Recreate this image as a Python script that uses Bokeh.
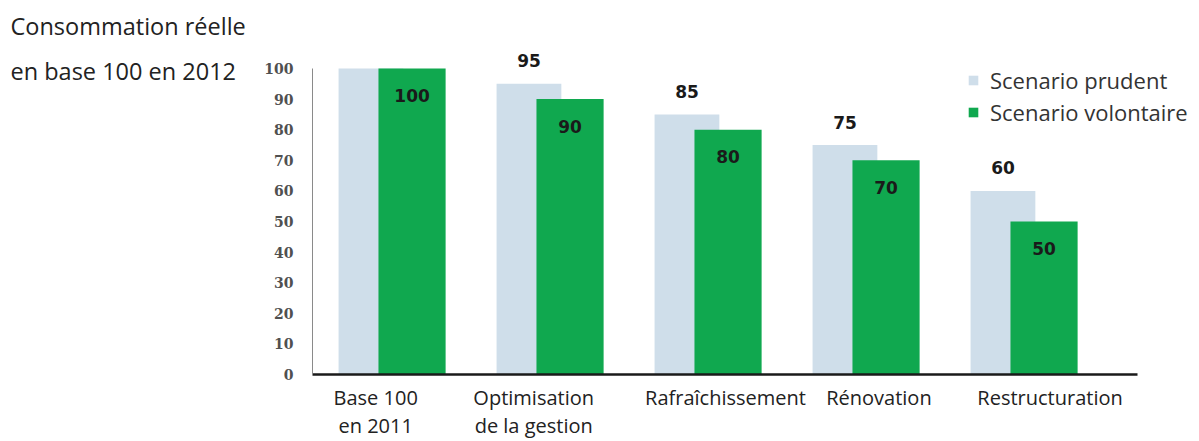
from bokeh.plotting import figure
from bokeh.layouts import row
from bokeh.models import ColumnDataSource, Range1d, FixedTicker, Legend, LegendItem, CDSView, IndexFilter
from bokeh.core.properties import value
from bokeh.embed import file_html
from bokeh.resources import INLINE

# ---- data ----
categories = ["Base 100\nen 2011", "Optimisation\nde la gestion", "Rafraîchissement", "Rénovation", "Restructuration"]
prudent = [100, 95, 85, 75, 60]
volontaire = [100, 90, 80, 70, 50]
series_names = ["Scenario prudent", "Scenario volontaire"]
y_ticks = [0, 10, 20, 30, 40, 50, 60, 70, 80, 90, 100]
title_lines = ["Consommation réelle", "en base 100 en 2012"]

# ---- layout / style ----
PRUDENT_COLOR = "#cfdeea"
GREEN_COLOR = "#10a84f"
DODGE = 0.13
W_PRUDENT = 0.41
W_GREEN = 0.425
label_nudge = [-0.10, -0.10, 0.114, 0.085, 0.168]
H = 441
LEFT_W = 255
MAIN_W = 1199 - LEFT_W
FRAME_BOTTOM = 374  # pixel row of the x axis

# ---- left panel with the title text (pixel-like ranges, top-down) ----
left = figure(width=LEFT_W, height=H, output_backend="svg", toolbar_location=None,
              x_range=Range1d(0, LEFT_W), y_range=Range1d(FRAME_BOTTOM, 0), min_border=0,
              min_border_bottom=H - FRAME_BOTTOM,
              x_axis_type=None, y_axis_type=None)
left.grid.visible = False
left.outline_line_color = None
left.text(x=[10, 10], y=[25, 70], text=title_lines,
          text_align="left", text_baseline="middle",
          text_font=value("Open Sans"), text_font_size="23.5px", text_color="#222222")

# ---- main chart ----
idx = list(range(len(categories)))
src = ColumnDataSource(dict(
    x=idx,
    xp=[i - DODGE for i in idx],
    xg=[i + DODGE for i in idx],
    prudent=prudent,
    volontaire=volontaire,
    tp=[str(v) for v in prudent],
    tg=[str(v) for v in volontaire],
))

x_end = -0.5 + (MAIN_W - (312 - LEFT_W)) / 158.0
p = figure(width=MAIN_W, height=H, output_backend="svg", toolbar_location=None,
           x_range=Range1d(-0.5, x_end), y_range=Range1d(0, FRAME_BOTTOM / 3.06),
           min_border_left=312 - LEFT_W, min_border_right=0, min_border_top=0, min_border_bottom=60)
p.outline_line_color = None
p.xgrid.visible = False
p.ygrid.visible = False

r1 = p.vbar(x="xp", top="prudent", width=W_PRUDENT, source=src, fill_color=PRUDENT_COLOR, line_color=None)
r2 = p.vbar(x="xg", top="volontaire", width=W_GREEN, source=src, fill_color=GREEN_COLOR, line_color=None)

# value labels
p.text(x="xp", y="prudent", text="tp", source=src, view=CDSView(filter=IndexFilter([1, 2, 3, 4])),
       text_align="center", text_baseline="middle", y_offset=-23,
       text_font=value("DejaVu Sans"), text_font_style="bold", text_font_size="17px", text_color="#1a1a1a")
p.text(x="xg", y="volontaire", text="tg", source=src,
       text_align="center", text_baseline="middle", y_offset=27,
       text_font=value("DejaVu Sans"), text_font_style="bold", text_font_size="17px", text_color="#1a1a1a")

# y axis
p.yaxis.ticker = FixedTicker(ticks=y_ticks)
p.yaxis.bounds = (0, 100)
p.yaxis.axis_line_color = "#8a8a8a"
p.yaxis.axis_line_width = 1
p.yaxis.major_tick_line_color = None
p.yaxis.minor_tick_line_color = None
p.yaxis.major_tick_out = 0
p.yaxis.major_tick_in = 0
p.yaxis.major_label_standoff = 19
p.yaxis.major_label_text_font = "DejaVu Serif"
p.yaxis.major_label_text_font_style = "bold"
p.yaxis.major_label_text_font_size = "14px"
p.yaxis.major_label_text_color = "#505050"

# x axis
xt = [i + n for i, n in zip(idx, label_nudge)]
p.xaxis.ticker = FixedTicker(ticks=xt)
p.xaxis.major_label_overrides = {t: c for t, c in zip(xt, categories)}
p.xaxis.bounds = (-0.5, 4.7215)
p.xaxis.axis_line_color = "#1a1a1a"
p.xaxis.axis_line_width = 2.5
p.xaxis.major_tick_line_color = None
p.xaxis.minor_tick_line_color = None
p.xaxis.major_tick_out = 0
p.xaxis.major_tick_in = 0
p.xaxis.major_label_standoff = 9
p.xaxis.major_label_text_font = "Open Sans"
p.xaxis.major_label_text_font_size = "20px"
p.xaxis.major_label_text_color = "#222222"
p.xaxis.major_label_text_line_height = 1.05

# legend
legend = Legend(items=[LegendItem(label=series_names[0], renderers=[r1]),
                       LegendItem(label=series_names[1], renderers=[r2])],
                location=(655, 247), padding=0, margin=0, spacing=2,
                glyph_width=12, glyph_height=12, label_standoff=11,
                label_text_font="Open Sans", label_text_font_size="22px", label_text_color="#333333",
                border_line_alpha=0, background_fill_alpha=0)
p.add_layout(legend, "center")

layout = row(left, p, spacing=0)
open("out.html", "w").write(file_html(layout, INLINE))
